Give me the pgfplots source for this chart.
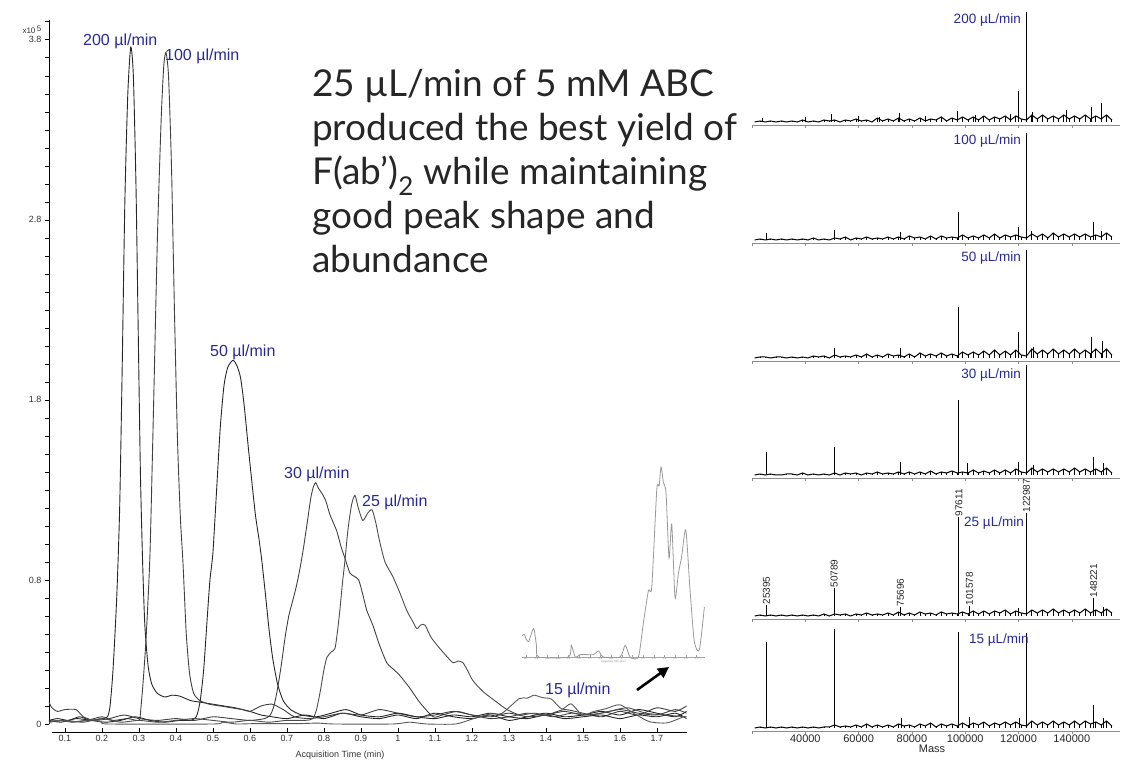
\documentclass[border=0pt]{standalone}
\usepackage{pgfplots}
\pgfplotsset{compat=1.18}
\usepackage{pgfplotstable}
\usepackage{fontspec}
\setmainfont{Liberation Sans}
\newfontfamily\bigfont{Lato}
\usetikzlibrary{arrows.meta}
\definecolor{lab}{RGB}{40,40,150}

% 15 ul/min trace (also used in the inset)
\pgfplotstableread{
t y
0.065 0.018
0.087 0.019
0.100 0.016
0.127 0.013
0.174 0.024
0.200 0.010
0.221 0.000
0.500 0.000
0.526 0.010
0.564 0.000
0.610 0.002
0.673 0.002
0.735 0.002
0.782 0.005
0.829 0.000
0.985 0.000
1.032 0.010
1.078 0.000
1.156 0.000
1.203 0.029
1.250 0.056
1.281 0.059
1.328 0.141
1.350 0.144
1.368 0.160
1.390 0.147
1.415 0.138
1.443 0.083
1.468 0.112
1.499 0.050
1.530 0.070
1.562 0.085
1.600 0.107
1.640 0.056
1.680 0.013
1.727 0.006
1.774 0.042
}\trfifteen

% baseline noise of the six deconvoluted spectra (px above baseline)
\pgfplotstableread{
m a b c d e f
21000 0 0 0 0 0 0
23000 1 1 1 1 1 1
25000 0 0 1 0 0 0
27000 1 1 0 1 1 1
29000 0 0 1 0 0 0
31000 1 1 1 0 1 1
33000 0 0 0 1 0 0
35000 1 1 1 1 1 1
37000 0 0 0 0 0 0
39000 2 1 1 2 1 1
41000 0 0 0 0 0 0
43000 1 2 2 1 1 1
45000 0 0 1 0 0 0
47000 2 1 2 1 2 1
49000 1 0 0 0 0 1
51000 2 2 3 2 2 3
53000 0 1 1 0 1 1
55000 2 3 2 2 2 2
57000 1 0 1 1 0 1
59000 3 2 3 2 2 3
61000 1 1 1 0 1 1
63000 2 3 4 2 3 4
65000 0 1 1 1 1 1
67000 4 2 3 3 2 3
69000 1 1 1 1 1 1
71000 3 3 4 2 3 3
73000 1 1 2 1 1 1
75000 4 3 3 3 4 4
77000 1 1 1 1 1 2
79000 3 4 4 3 3 3
81000 1 2 1 1 1 1
83000 4 3 5 3 4 4
85000 1 1 2 1 2 2
87000 3 4 4 4 3 5
89000 2 1 2 1 1 1
91000 5 4 5 3 4 4
93000 1 2 2 2 2 2
95000 4 3 4 4 3 4
97000 2 2 2 2 2 2
99000 5 5 6 3 4 5
101000 2 2 3 2 2 2
103000 5 4 6 5 5 5
105000 2 2 3 2 2 3
107000 6 5 7 4 5 6
109000 2 2 3 2 2 2
111000 5 6 8 5 5 5
113000 3 2 3 2 3 3
115000 6 5 7 5 6 6
117000 2 3 3 2 2 3
119000 6 5 8 6 5 6
121000 3 3 3 3 3 3
123000 2 2 2 2 2 2
125000 7 6 9 7 6 7
127000 3 3 4 3 3 3
129000 7 6 8 6 6 6
131000 3 2 4 3 3 3
133000 6 7 9 6 7 7
135000 3 3 4 3 3 3
137000 7 6 8 6 6 6
139000 3 3 4 3 3 3
141000 6 6 9 7 6 7
143000 3 3 4 3 3 3
145000 7 6 8 6 7 7
147000 3 3 4 3 3 4
149000 6 5 9 6 6 6
151000 3 3 4 3 3 3
153000 7 7 9 7 7 7
155000 2 3 3 2 3 2
}\noise

\pgfplotsset{
  trace/.style={line width=0.9pt, smooth, tension=0.4},
  panel/.style={scale only axis, width=368pt, anchor=south west,
    xmin=20000, xmax=158070, ymin=-3, clip=false,
    axis x line*=bottom, axis y line=none,
    scaled x ticks=false,
    x axis line style={black!45, line width=0.8pt},
    xtick={20000,40000,60000,80000,100000,120000,140000},
    xticklabels={}, tick align=outside, major tick length=3pt,
    xtick style={black!45, line width=0.6pt}},
  noiseline/.style={black, line width=1.0pt},
  noisecomb/.style={ycomb, black, line width=0.8pt},
  spikes/.style={ycomb, black, line width=1.0pt},
}
\tikzset{pklab/.style={rotate=90, anchor=west, inner sep=0.5pt, text=black!85, font=\fontsize{10}{10}\selectfont}}

\begin{document}
\begin{tikzpicture}
\path[use as bounding box] (0,0) rectangle (1145pt,767pt);

% ---------- chromatogram ----------
\begin{axis}[
  at={(49pt,43pt)}, anchor=south west, scale only axis,
  width=637.5pt, height=704pt,
  xmin=0.057, xmax=1.78, ymin=0, ymax=3.91,
  axis x line=none, axis y line*=left,
  ytick={0,0.8,1.8,2.8,3.8},
  minor ytick={0.1,0.2,0.3,0.4,0.5,0.6,0.7,0.9,1.0,1.1,1.2,1.3,1.4,1.5,1.6,1.7,1.9,2.0,2.1,2.2,2.3,2.4,2.5,2.6,2.7,2.9,3.0,3.1,3.2,3.3,3.4,3.5,3.6,3.7,3.9},
  tick align=outside, major tick length=4pt, minor tick length=4pt,
  tick style={black, line width=0.6pt},
  axis line style={black, line width=0.8pt},
  yticklabel style={font=\fontsize{9}{9}\selectfont, text=black!80, /pgf/number format/assume math mode=true},
  clip=false,
]
% 200 ul/min
\addplot[trace, black!85] coordinates {
(0.057,0.02) (0.08,0.03) (0.11,0.02) (0.14,0.04) (0.17,0.02) (0.2,0.03) (0.215,0.04)
(0.222,0.1) (0.23,0.3) (0.24,0.7) (0.248,1.2) (0.255,2.0) (0.262,2.9) (0.27,3.5)
(0.278,3.76) (0.285,3.6) (0.292,3.0) (0.298,2.2) (0.304,1.4) (0.31,0.9) (0.316,0.55)
(0.325,0.32) (0.335,0.22) (0.35,0.17) (0.37,0.15) (0.39,0.16) (0.41,0.155) (0.44,0.13)
(0.47,0.12) (0.5,0.11) (0.53,0.1) (0.56,0.09) (0.6,0.07) (0.63,0.05) (0.66,0.04)
(0.7,0.03) (0.75,0.05) (0.8,0.03) (0.85,0.06) (0.9,0.04) (0.95,0.03) (1.0,0.05)
(1.05,0.03) (1.1,0.06) (1.15,0.04) (1.2,0.03) (1.25,0.05) (1.3,0.02) (1.35,0.04)
(1.4,0.06) (1.45,0.04) (1.5,0.05) (1.55,0.07) (1.6,0.05) (1.65,0.08) (1.7,0.06)
(1.75,0.04) (1.78,0.07)};
% 100 ul/min
\addplot[trace, black!75] coordinates {
(0.057,0.01) (0.09,0.02) (0.12,0.01) (0.16,0.02) (0.2,0.04) (0.23,0.02) (0.27,0.03)
(0.3,0.02) (0.305,0.08) (0.312,0.25) (0.32,0.5) (0.33,0.95) (0.34,1.8) (0.35,2.7)
(0.36,3.35) (0.367,3.65) (0.373,3.73) (0.38,3.6) (0.388,3.1) (0.396,2.3) (0.404,1.6)
(0.412,1.15) (0.419,0.9) (0.428,0.5) (0.437,0.28) (0.448,0.17) (0.465,0.13) (0.49,0.11)
(0.52,0.1) (0.55,0.09) (0.58,0.08) (0.6,0.07) (0.63,0.1) (0.66,0.11) (0.69,0.08)
(0.72,0.04) (0.76,0.03) (0.8,0.04) (0.85,0.06) (0.9,0.05) (0.95,0.08) (1.0,0.06)
(1.05,0.04) (1.1,0.05) (1.15,0.07) (1.2,0.05) (1.25,0.03) (1.3,0.04) (1.35,0.06)
(1.4,0.05) (1.45,0.08) (1.5,0.06) (1.55,0.04) (1.6,0.07) (1.65,0.05) (1.7,0.09)
(1.75,0.07) (1.78,0.1)};
% 50 ul/min
\addplot[trace, black!85] coordinates {
(0.057,0.02) (0.09,0.01) (0.13,0.03) (0.17,0.02) (0.21,0.01) (0.25,0.02) (0.29,0.04)
(0.33,0.02) (0.37,0.01) (0.41,0.02) (0.44,0.02) (0.455,0.04) (0.465,0.12) (0.475,0.3)
(0.485,0.6) (0.492,0.8) (0.5,0.95) (0.51,1.3) (0.52,1.65) (0.53,1.88) (0.54,1.98)
(0.554,2.02) (0.565,1.99) (0.575,1.92) (0.585,1.76) (0.595,1.55) (0.605,1.35)
(0.615,1.16) (0.625,1.02) (0.632,0.91) (0.642,0.72) (0.652,0.52) (0.662,0.36)
(0.675,0.22) (0.69,0.13) (0.71,0.08) (0.74,0.05) (0.78,0.04) (0.82,0.06) (0.86,0.08)
(0.9,0.05) (0.95,0.04) (1.0,0.06) (1.05,0.04) (1.1,0.03) (1.15,0.05) (1.2,0.04)
(1.25,0.06) (1.3,0.04) (1.35,0.03) (1.4,0.05) (1.45,0.03) (1.5,0.04) (1.55,0.05)
(1.6,0.03) (1.65,0.05) (1.7,0.04) (1.75,0.06) (1.78,0.03)};
% 30 ul/min
\addplot[trace, black!75] coordinates {
(0.057,0.12) (0.065,0.09) (0.08,0.07) (0.1,0.08) (0.13,0.08) (0.15,0.04) (0.18,0.02)
(0.22,0.03) (0.26,0.05) (0.3,0.03) (0.35,0.02) (0.4,0.03) (0.45,0.02) (0.5,0.04)
(0.55,0.03) (0.6,0.02) (0.64,0.03) (0.655,0.05) (0.665,0.1) (0.675,0.2) (0.685,0.33)
(0.695,0.48) (0.705,0.6) (0.715,0.68) (0.725,0.76) (0.735,0.86) (0.745,0.98)
(0.755,1.12) (0.765,1.26) (0.772,1.32) (0.778,1.34) (0.785,1.31) (0.795,1.28)
(0.805,1.24) (0.815,1.17) (0.825,1.12) (0.835,1.07) (0.847,0.98) (0.857,0.92)
(0.87,0.84) (0.882,0.82) (0.894,0.8) (0.905,0.72) (0.916,0.63) (0.932,0.55) (0.95,0.44)
(0.97,0.34) (0.99,0.3) (1.005,0.27) (1.032,0.2) (1.059,0.12) (1.095,0.04) (1.12,0.05)
(1.16,0.07) (1.2,0.05) (1.25,0.04) (1.3,0.06) (1.35,0.04) (1.4,0.05) (1.45,0.07)
(1.5,0.05) (1.55,0.06) (1.6,0.08) (1.65,0.06) (1.7,0.05) (1.75,0.08) (1.78,0.06)};
% 25 ul/min
\addplot[trace, black!70] coordinates {
(0.057,0.01) (0.1,0.02) (0.15,0.01) (0.2,0.03) (0.25,0.01) (0.3,0.02) (0.35,0.01)
(0.4,0.02) (0.45,0.03) (0.5,0.02) (0.55,0.01) (0.6,0.02) (0.65,0.01) (0.7,0.02)
(0.75,0.02) (0.77,0.03) (0.78,0.08) (0.79,0.18) (0.8,0.3) (0.808,0.37) (0.82,0.4)
(0.83,0.42) (0.837,0.52) (0.843,0.63) (0.85,0.78) (0.857,0.91) (0.865,1.08)
(0.875,1.22) (0.884,1.27) (0.893,1.2) (0.905,1.13) (0.918,1.17) (0.93,1.19)
(0.94,1.12) (0.95,1.02) (0.965,0.9) (0.986,0.82) (1.005,0.73) (1.024,0.63)
(1.04,0.57) (1.051,0.53) (1.062,0.55) (1.073,0.55) (1.09,0.48) (1.113,0.42)
(1.13,0.38) (1.149,0.34) (1.163,0.35) (1.176,0.34) (1.19,0.29) (1.203,0.24)
(1.23,0.18) (1.268,0.12) (1.295,0.08) (1.33,0.05) (1.37,0.06) (1.42,0.04)
(1.47,0.06) (1.52,0.05) (1.57,0.07) (1.62,0.09) (1.67,0.06) (1.72,0.05) (1.78,0.04)};
% 15 ul/min
\addplot[trace, black!65] table[x=t, y=y] {\trfifteen};
\end{axis}

% time axis, set slightly below the zero level
\begin{axis}[
  at={(52pt,35pt)}, anchor=south west, scale only axis,
  width=634.5pt, height=10pt,
  xmin=0.065, xmax=1.78, ymin=0, ymax=1,
  axis x line*=bottom, axis y line=none,
  axis line style={black, line width=0.8pt},
  xtick={0.1,0.2,0.3,0.4,0.5,0.6,0.7,0.8,0.9,1,1.1,1.2,1.3,1.4,1.5,1.6,1.7},
  xticklabels={0.1,0.2,0.3,0.4,0.5,0.6,0.7,0.8,0.9,1,1.1,1.2,1.3,1.4,1.5,1.6,1.7},
  tick align=inside, major tick length=4pt,
  tick style={black, line width=0.6pt},
  xticklabel style={font=\fontsize{9}{9}\selectfont, text=black!80},
]
\addplot[draw=none] coordinates {(0.5,0)};
\end{axis}
\node[font=\fontsize{9}{9}\selectfont, text=black!80] at (340pt,12pt) {Acquisition Time (min)};
\node[anchor=west, font=\fontsize{8}{8}\selectfont, text=black!80] at (19pt,737pt) {x10\,\raisebox{2pt}{5}};

% inset of the 15 ul/min trace
\begin{axis}[
  at={(522pt,110pt)}, anchor=south west, scale only axis,
  width=183pt, height=190pt,
  xmin=0.065, xmax=1.78, ymin=0, ymax=0.16,
  axis x line*=bottom, axis y line=none,
  axis line style={black!35, line width=0.5pt},
  xtick={0.1,0.2,0.3,0.4,0.5,0.6,0.7,0.8,0.9,1,1.1,1.2,1.3,1.4,1.5,1.6,1.7},
  xticklabels={0.1,0.2,0.3,0.4,0.5,0.6,0.7,0.8,0.9,1,1.1,1.2,1.3,1.4,1.5,1.6,1.7},
  tick align=inside, major tick length=1.5pt,
  tick style={black!35, line width=0.4pt},
  xticklabel style={font=\fontsize{2.5}{2.5}\selectfont, text=black!50, inner sep=0.5pt},
  xlabel={Acquisition Time (min)},
  xlabel style={font=\fontsize{2.5}{2.5}\selectfont, text=black!50, inner sep=0.5pt},
  clip=false,
]
\addplot[black!40, line width=0.8pt, smooth, tension=0.4] table[x=t, y=y] {\trfifteen};
\end{axis}
\draw[-{Triangle[length=11pt,width=11pt]}, line width=2.6pt, black] (637pt,77pt) -- (669pt,100pt);

% flow-rate labels on the chromatogram
\begin{scope}[every node/.style={anchor=west, text=lab, font=\fontsize{16}{16}\selectfont, inner sep=0pt}]
\node at (83pt,726pt) {200 µl/min};
\node at (165pt,711pt) {100 µl/min};
\node at (210pt,415pt) {50 µl/min};
\node at (284pt,293pt) {30 µl/min};
\node at (362pt,265pt) {25 µl/min};
\node at (545pt,77pt) {15 µl/min};
\end{scope}

% statement
\begin{scope}[every node/.style={anchor=base west, inner sep=0pt, text=black!85, font=\bigfont\fontsize{37}{37}\selectfont}]
\node at (312pt,670pt) {25 µL/min of 5 mM ABC};
\node at (312pt,626pt) {produced the best yield of};
\node at (312pt,582pt) {F(ab’)\textsubscript{2} while maintaining};
\node at (312pt,538pt) {good peak shape and};
\node at (312pt,494pt) {abundance};
\end{scope}

% ---------- deconvoluted spectra ----------
% 200 ul/min
\begin{axis}[panel, at={(752pt,642pt)}, height=115pt, ymax=112]
\addplot[noisecomb] table[x=m, y=a] {\noise};
\addplot[noiseline] table[x=m, y=a] {\noise};
\addplot[spikes] coordinates {(24000,4) (40000,5) (50000,8) (60000,6) (68000,5) (75500,9) (85000,6) (97000,11) (104000,7) (117000,8) (119800,31) (122987,110) (125400,10) (138000,12) (147450,15) (151300,19)};
\node[anchor=east, text=lab, font=\fontsize{13.5}{13.5}\selectfont, inner sep=1pt] at (axis cs:121300,102) {200 µL/min};
\end{axis}
% 100 ul/min
\begin{axis}[panel, at={(752pt,524pt)}, height=115pt, ymax=112]
\addplot[noisecomb] table[x=m, y=b] {\noise};
\addplot[noiseline] table[x=m, y=b] {\noise};
\addplot[spikes] coordinates {(25395,7) (50789,10) (75696,8) (97611,28) (119800,13) (122987,107) (125000,9) (148000,18) (151000,9)};
\node[anchor=east, text=lab, font=\fontsize{13.5}{13.5}\selectfont, inner sep=1pt] at (axis cs:121300,99) {100 µL/min};
\end{axis}
% 50 ul/min
\begin{axis}[panel, at={(752pt,406pt)}, height=115pt, ymax=112]
\addplot[noisecomb] table[x=m, y=c] {\noise};
\addplot[noiseline] table[x=m, y=c] {\noise};
\addplot[spikes] coordinates {(50789,10) (75696,10) (97611,51) (119800,26) (122987,108) (125500,11) (147500,21) (151500,17)};
\node[anchor=east, text=lab, font=\fontsize{13.5}{13.5}\selectfont, inner sep=1pt] at (axis cs:121300,100) {50 µL/min};
\end{axis}
% 30 ul/min
\begin{axis}[panel, at={(752pt,289pt)}, height=115pt, ymax=112]
\addplot[noisecomb] table[x=m, y=d] {\noise};
\addplot[noiseline] table[x=m, y=d] {\noise};
\addplot[spikes] coordinates {(25395,23) (50789,28) (75696,13) (97611,75) (101000,12) (119800,13) (122987,110) (125500,10) (148000,18) (152000,12)};
\node[anchor=east, text=lab, font=\fontsize{13.5}{13.5}\selectfont, inner sep=1pt] at (axis cs:121300,100) {30 µL/min};
\end{axis}
% 25 ul/min
\begin{axis}[panel, at={(752pt,148pt)}, height=141pt, ymax=138]
\addplot[noisecomb] table[x=m, y=e] {\noise};
\addplot[noiseline] table[x=m, y=e] {\noise};
\addplot[spikes] coordinates {(25395,11) (50789,28) (75696,9) (97611,99) (101578,10) (120000,8) (122987,103) (148221,18) (152000,9)};
\node[anchor=west, text=lab, font=\fontsize{13.5}{13.5}\selectfont, inner sep=1pt] at (axis cs:99170,93) {25 µL/min};
\node[pklab] at (axis cs:25395,11) {25395};
\node[pklab] at (axis cs:50789,28) {50789};
\node[pklab] at (axis cs:75696,9) {75696};
\node[pklab] at (axis cs:97611,99) {97611};
\node[pklab] at (axis cs:101578,10) {101578};
\node[pklab] at (axis cs:122987,103) {122987};
\node[pklab] at (axis cs:148221,18) {148221};
\end{axis}
% 15 ul/min
\begin{axis}[panel, at={(752pt,36pt)}, height=108pt, ymax=105,
  xticklabels={,40000,60000,80000,100000,120000,140000},
  xticklabel style={font=\fontsize{11}{11}\selectfont, text=black!85, inner sep=1pt}]
\addplot[noisecomb] table[x=m, y=f] {\noise};
\addplot[noiseline] table[x=m, y=f] {\noise};
\addplot[spikes] coordinates {(25395,86) (50789,99) (76000,10) (97611,96) (101500,11) (120500,10) (122987,95) (148221,23) (152000,10)};
\node[anchor=west, text=lab, font=\fontsize{13.5}{13.5}\selectfont, inner sep=1pt] at (axis cs:101000,88) {15 µL/min};
\end{axis}
\node[font=\fontsize{11}{11}\selectfont, text=black!85] at (932pt,18pt) {Mass};
\end{tikzpicture}
\end{document}
